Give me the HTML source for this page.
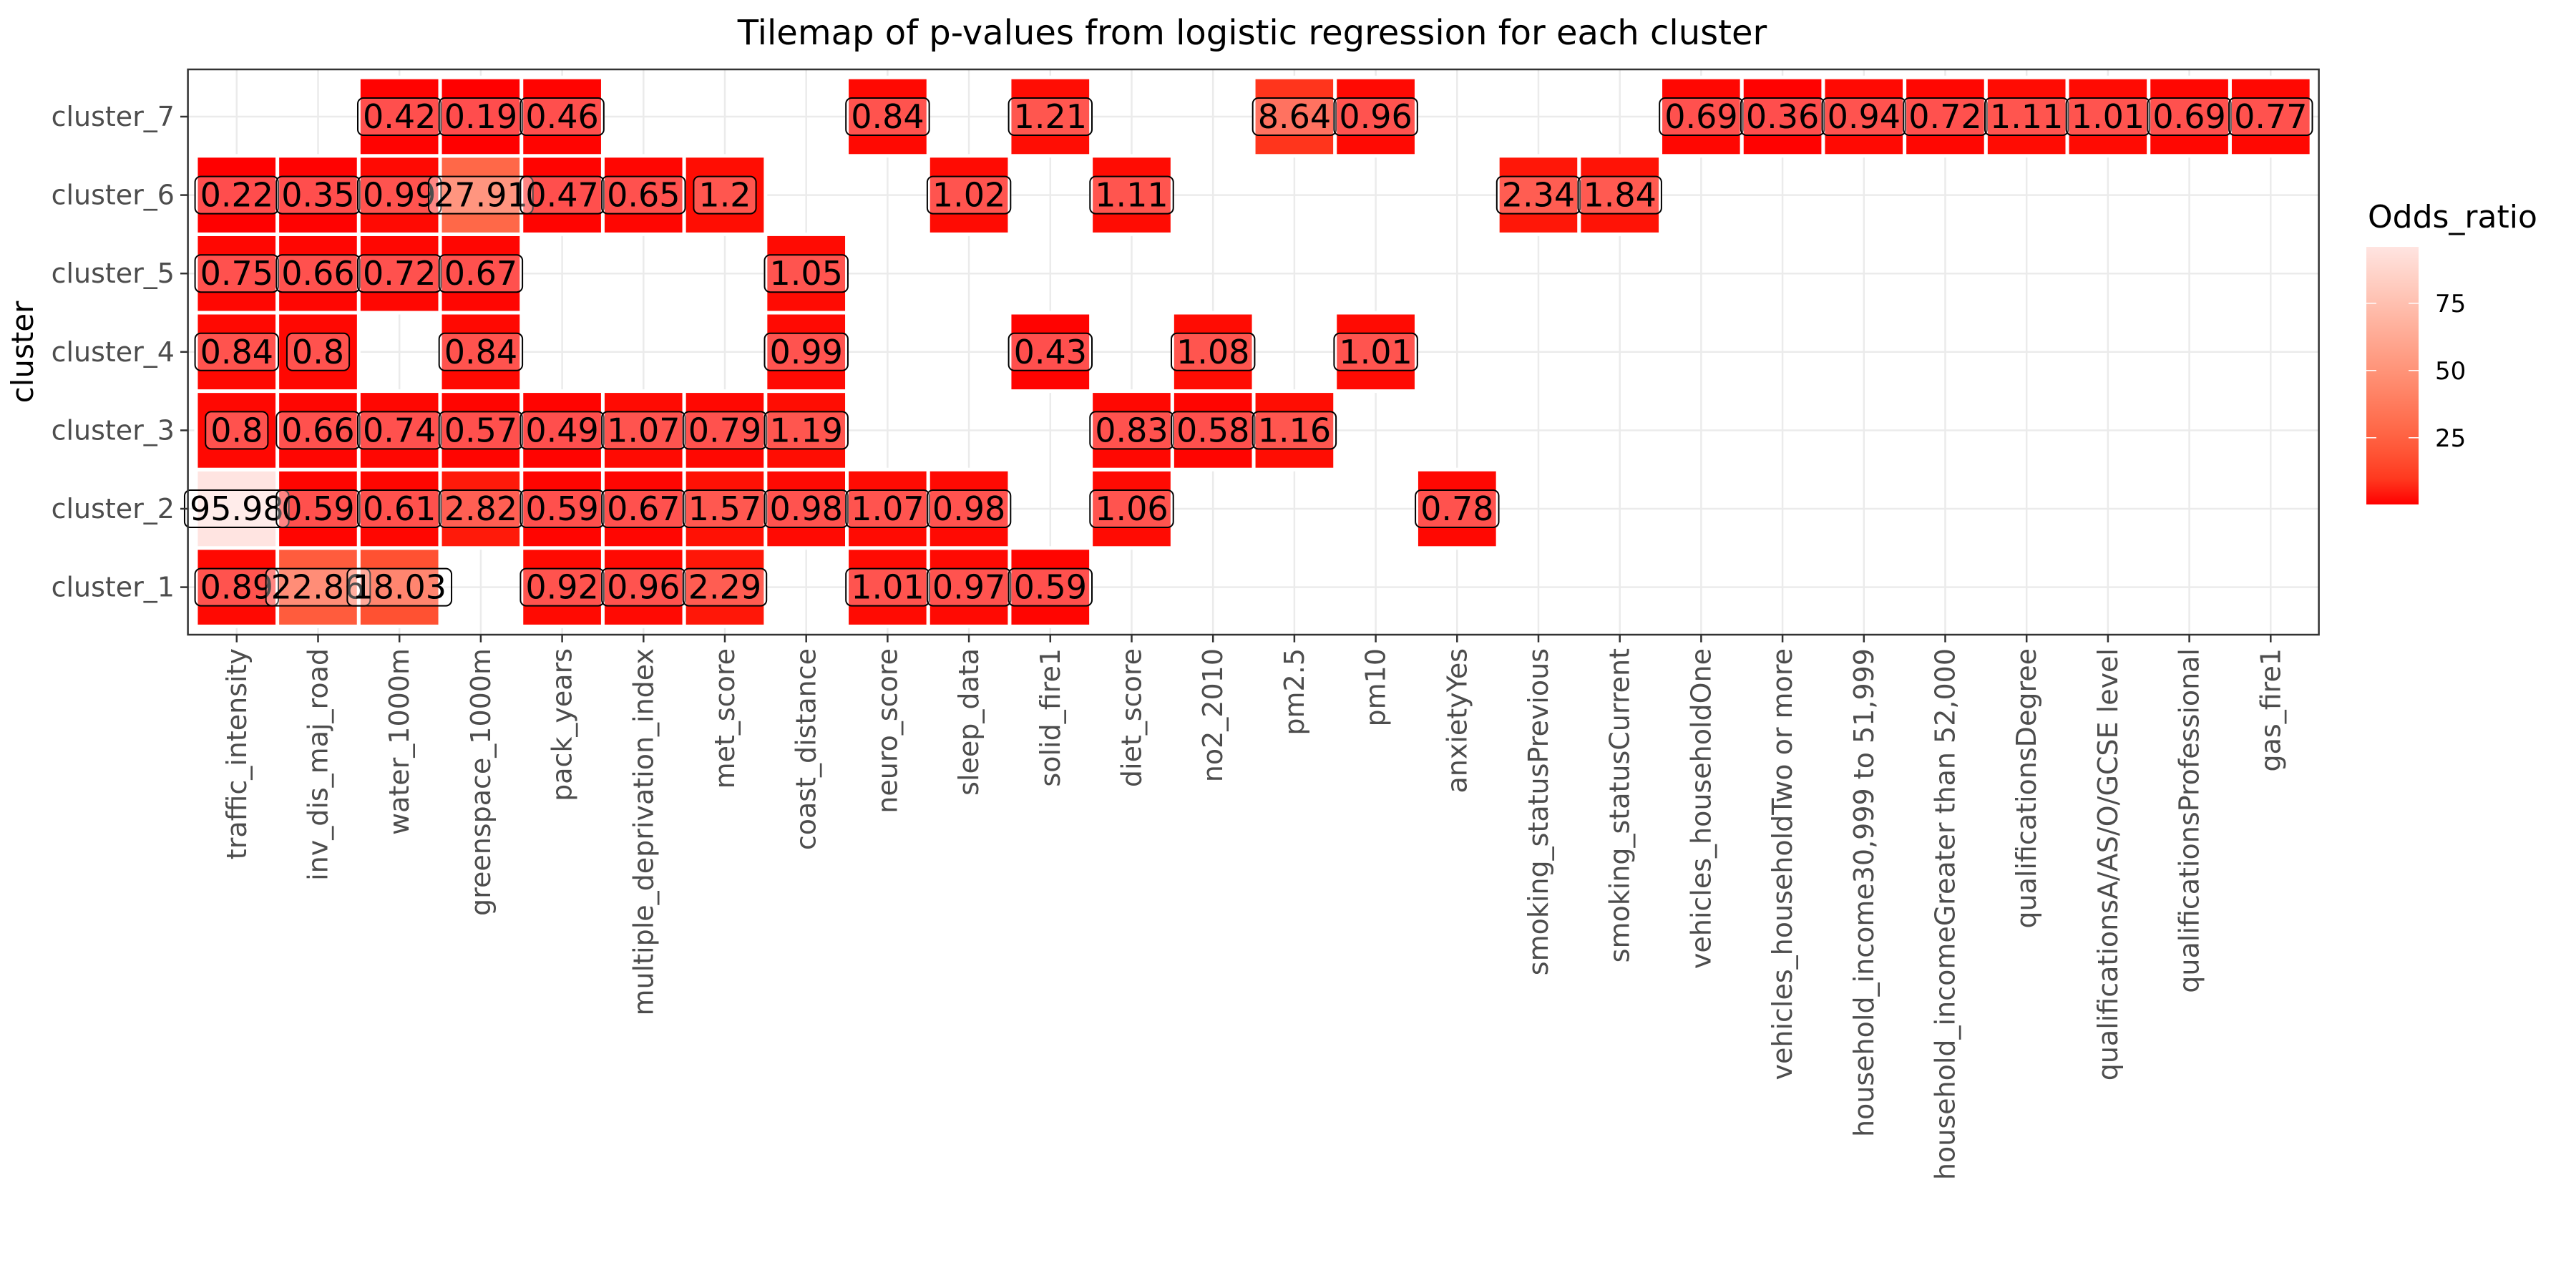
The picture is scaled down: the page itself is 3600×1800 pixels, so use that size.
<!DOCTYPE html>
<html><head><meta charset="utf-8"><style>
html,body{margin:0;padding:0;background:#fff}
svg{display:block}
text{font-family:"DejaVu Sans","Liberation Sans",sans-serif}
</style></head><body>
<svg id="chart" width="3600" height="1800" viewBox="0 0 3600 1800" xmlns="http://www.w3.org/2000/svg">
<rect width="3600" height="1800" fill="#fff"/>
<text x="1750" y="62" font-size="48" text-anchor="middle" fill="#000">Tilemap of p-values from logistic regression for each cluster</text>
<text transform="translate(46,492) rotate(-90)" font-size="42" text-anchor="middle" fill="#000">cluster</text>
<g id="grid"></g><g id="tiles"></g><g id="labels"></g>
<rect x="262.6" y="97" width="2978" height="790" fill="none" stroke="#333" stroke-width="2.5"/>
<g id="axes"></g>
<text x="3309" y="318" font-size="44" fill="#000">Odds_ratio</text>
<defs><linearGradient id="lg" x1="0" y1="1" x2="0" y2="0"></linearGradient></defs>
<rect x="3307" y="345" width="73" height="360" fill="url(#lg)"/>
<g id="legend"></g>
</svg>
<script>
const variables=["traffic_intensity","inv_dis_maj_road","water_1000m","greenspace_1000m","pack_years","multiple_deprivation_index","met_score","coast_distance","neuro_score","sleep_data","solid_fire1","diet_score","no2_2010","pm2.5","pm10","anxietyYes","smoking_statusPrevious","smoking_statusCurrent","vehicles_householdOne","vehicles_householdTwo or more","household_income30,999 to 51,999","household_incomeGreater than 52,000","qualificationsDegree","qualificationsA/AS/O/GCSE level","qualificationsProfessional","gas_fire1"];
const clusters=["cluster_1","cluster_2","cluster_3","cluster_4","cluster_5","cluster_6","cluster_7"];
const cluster7=[["water_1000m",0.42],["greenspace_1000m",0.19],["pack_years",0.46],["neuro_score",0.84],["solid_fire1",1.21],["pm2.5",8.64],["pm10",0.96],["vehicles_householdOne",0.69],["vehicles_householdTwo or more",0.36],["household_income30,999 to 51,999",0.94],["household_incomeGreater than 52,000",0.72],["qualificationsDegree",1.11],["qualificationsA/AS/O/GCSE level",1.01],["qualificationsProfessional",0.69],["gas_fire1",0.77]];
const cluster6=[["traffic_intensity",0.22],["inv_dis_maj_road",0.35],["water_1000m",0.99],["greenspace_1000m",27.91],["pack_years",0.47],["multiple_deprivation_index",0.65],["met_score",1.2],["sleep_data",1.02],["diet_score",1.11],["smoking_statusPrevious",2.34],["smoking_statusCurrent",1.84]];
const cluster5=[["traffic_intensity",0.75],["inv_dis_maj_road",0.66],["water_1000m",0.72],["greenspace_1000m",0.67],["coast_distance",1.05]];
const cluster4=[["traffic_intensity",0.84],["inv_dis_maj_road",0.8],["greenspace_1000m",0.84],["coast_distance",0.99],["solid_fire1",0.43],["no2_2010",1.08],["pm10",1.01]];
const cluster3=[["traffic_intensity",0.8],["inv_dis_maj_road",0.66],["water_1000m",0.74],["greenspace_1000m",0.57],["pack_years",0.49],["multiple_deprivation_index",1.07],["met_score",0.79],["coast_distance",1.19],["diet_score",0.83],["no2_2010",0.58],["pm2.5",1.16]];
const cluster2=[["traffic_intensity",95.98],["inv_dis_maj_road",0.59],["water_1000m",0.61],["greenspace_1000m",2.82],["pack_years",0.59],["multiple_deprivation_index",0.67],["met_score",1.57],["coast_distance",0.98],["neuro_score",1.07],["sleep_data",0.98],["diet_score",1.06],["anxietyYes",0.78]];
const cluster1=[["traffic_intensity",0.89],["inv_dis_maj_road",22.86],["water_1000m",18.03],["pack_years",0.92],["multiple_deprivation_index",0.96],["met_score",2.29],["neuro_score",1.01],["sleep_data",0.97],["solid_fire1",0.59]];
const legendTicks=[25,50,75];

const NS="http://www.w3.org/2000/svg";
const rows={cluster_1:cluster1,cluster_2:cluster2,cluster_3:cluster3,cluster_4:cluster4,cluster_5:cluster5,cluster_6:cluster6,cluster_7:cluster7};
const X0=330.8,DX=113.7,Y1=820.6,DY=109.6;
const xPos=v=>X0+variables.indexOf(v)*DX;
const yPos=c=>Y1-clusters.indexOf(c)*DY;
function mk(tag,attrs,parent){const e=document.createElementNS(NS,tag);for(const k in attrs)e.setAttribute(k,attrs[k]);parent.appendChild(e);return e;}
function toLin(c){c/=255;return c<=0.04045?c/12.92:Math.pow((c+0.055)/1.055,2.4);}
function toS(c){c=c<=0.0031308?12.92*c:1.055*Math.pow(c,1/2.4)-0.055;return Math.max(0,Math.min(255,Math.round(c*255)));}
const Wn=[0.95047,1,1.08883];
function f(t){return t>0.008856?Math.cbrt(t):7.787*t+16/116;}
function fi(t){return t>0.206893?t*t*t:(t-16/116)/7.787;}
function rgb2lab(r,g,b){r=toLin(r);g=toLin(g);b=toLin(b);const X=(0.4124*r+0.3576*g+0.1805*b)/Wn[0],Y=(0.2126*r+0.7152*g+0.0722*b)/Wn[1],Z=(0.0193*r+0.1192*g+0.9505*b)/Wn[2];return[116*f(Y)-16,500*(f(X)-f(Y)),200*(f(Y)-f(Z))];}
function lab2rgb(L,a,bb){const fy=(L+16)/116,fx=fy+a/500,fz=fy-bb/200;const X=fi(fx)*Wn[0],Y=fi(fy)*Wn[1],Z=fi(fz)*Wn[2];const r=3.2406*X-1.5372*Y-0.4986*Z,g=-0.9689*X+1.8758*Y+0.0415*Z,b=0.0557*X-0.2040*Y+1.0570*Z;return"rgb("+toS(r)+","+toS(g)+","+toS(b)+")";}
const lo=rgb2lab(255,0,0),hi=rgb2lab(255,228,225);
let all=[];for(const c of clusters)for(const p of rows[c])all.push(p[1]);
const vmin=Math.min(...all),vmax=Math.max(...all);
function col(v){const t=Math.max(0,Math.min(1,(v-vmin)/(vmax-vmin)));return lab2rgb(lo[0]+(hi[0]-lo[0])*t,lo[1]+(hi[1]-lo[1])*t,lo[2]+(hi[2]-lo[2])*t);}

const grid=document.getElementById('grid'),tiles=document.getElementById('tiles'),labels=document.getElementById('labels'),axes=document.getElementById('axes');
for(const v of variables){const x=xPos(v);const l=mk('line',{x1:x,x2:x,y1:97,y2:887,stroke:'#EBEBEB','stroke-width':2.5},grid);

}
for(const c of clusters){const y=yPos(c);const l=mk('line',{x1:262.6,x2:3240.6,y1:y,y2:y,stroke:'#EBEBEB','stroke-width':2.5},grid);

}
const lbls=[];
for(const c of clusters){for(const [v,val] of rows[c]){const x=xPos(v),y=yPos(c);
const r=mk('rect',{x:x-DX/2,y:y-DY/2,width:DX,height:DY,fill:col(val),stroke:'#fff','stroke-width':5},tiles);


lbls.push([x,y,String(val),c,v]);}}
for(const [x,y,s,c,v] of lbls){const g=mk('g',{},labels);


const t=mk('text',{x:x,y:y+16,'font-size':46,'text-anchor':'middle',fill:'#000'},g);t.textContent=s;
let w=t.getComputedTextLength();
const r=mk('rect',{x:x-w/2-7,y:y-26,width:w+14,height:52,rx:8,ry:8,fill:'rgba(255,255,255,0.3)',stroke:'#000','stroke-width':2},g);
g.insertBefore(r,t);}
for(const c of clusters){const y=yPos(c);
const tk=mk('line',{x1:252,x2:262.6,y1:y,y2:y,stroke:'#333','stroke-width':2.5},axes);


const t=mk('text',{x:244,y:y+13,'font-size':38,'text-anchor':'end',fill:'#4D4D4D'},axes);t.textContent=c;

}
for(const v of variables){const x=xPos(v);
const tk=mk('line',{x1:x,x2:x,y1:887,y2:897.6,stroke:'#333','stroke-width':2.5},axes);


const t=mk('text',{transform:'translate('+(x+13)+',906) rotate(-90)','font-size':38,'text-anchor':'end',fill:'#4D4D4D'},axes);t.textContent=v;

}
const lg=document.getElementById('lg');
for(let i=0;i<=10;i++){mk('stop',{offset:(i*10)+'%','stop-color':col(vmin+(vmax-vmin)*i/10)},lg);}
const leg=document.getElementById('legend');
const ly=v=>705-(v-vmin)/(vmax-vmin)*360;
for(const v of legendTicks){const y=ly(v);
const a=mk('line',{x1:3307,x2:3321,y1:y,y2:y,stroke:'#fff','stroke-width':1.5},leg);


const b=mk('line',{x1:3366,x2:3380,y1:y,y2:y,stroke:'#fff','stroke-width':1.5},leg);


const t=mk('text',{x:3403,y:y+12,'font-size':34,fill:'#000'},leg);t.textContent=v;

}
</script>
</body></html>
